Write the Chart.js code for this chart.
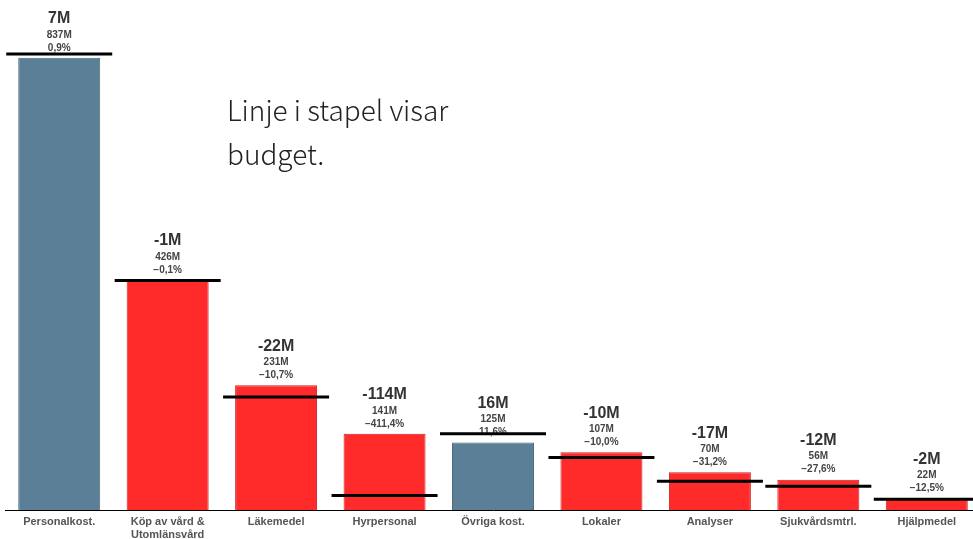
<!DOCTYPE html>
<html>
<head>
<meta charset="utf-8">
<script src="https://cdn.jsdelivr.net/npm/chart.js@4.4.0/dist/chart.umd.min.js"></script>
<style>
  html, body { margin: 0; padding: 0; background: #fff; overflow: hidden; }
  #wrap { width: 982px; height: 545px; position: relative; }
</style>
</head>
<body>
<div id="wrap"><canvas id="barChart"></canvas></div>
<script>
var categories = ["Personalkost.", ["Köp av vård &", "Utomlänsvård"], "Läkemedel", "Hyrpersonal",
    "Övriga kost.", "Lokaler", "Analyser", "Sjukvårdsmtrl.", "Hjälpmedel"];
var actual = [837, 426, 231, 141, 125, 107, 70, 56, 22];       // utfall, M
var deviation = [7, -1, -22, -114, 16, -10, -17, -12, -2];     // avvikelse mot budget, M
var budget = [844, 425, 209, 27, 141, 97, 53, 44, 20];         // budget, M
var percent = ["0,9%", "\u22120,1%", "\u221210,7%", "\u2212411,4%", "11,6%",
    "\u221210,0%", "\u221231,2%", "\u221227,6%", "\u221212,5%"];

var blue = '#5a7f96', red = '#ff2b2b';
var barColors = deviation.map(function (d) { return d > 0 ? blue : red; });
var barBorders = deviation.map(function (d) { return d > 0 ? '#4a6a7e' : '#c82222'; });

var labelPlugin = {
    id: 'barLabels',
    beforeDatasetsDraw: function (chart) {
        var ctx = chart.ctx;
        var meta = chart.getDatasetMeta(1);
        ctx.save();
        ctx.textAlign = 'center';
        ctx.textBaseline = 'middle';
        meta.data.forEach(function (bar, i) {
            var d = deviation[i];
            ctx.fillStyle = '#333';
            ctx.font = 'bold 16px "Liberation Sans", Arial, sans-serif';
            ctx.fillText((d < 0 ? '-' : '') + Math.abs(d) + 'M', bar.x, bar.y - 39);
            ctx.fillStyle = '#444';
            ctx.font = 'bold 10px "Liberation Sans", Arial, sans-serif';
            ctx.fillText(actual[i] + 'M', bar.x, bar.y - 23);
            ctx.fillText(percent[i], bar.x, bar.y - 10);
        });
        // note
        ctx.textAlign = 'left';
        ctx.textBaseline = 'alphabetic';
        ctx.fillStyle = '#222';
        ctx.font = '300 28px "Noto Sans CJK JP", "Noto Sans", sans-serif';
        ctx.fillText('Linje i stapel visar', 227, 121);
        ctx.fillText('budget.', 227, 165);
        ctx.restore();
    }
};

var ctx2 = document.getElementById("barChart").getContext("2d");
new Chart(ctx2, {
    type: 'bar',
    data: {
        labels: categories,
        datasets: [
            {
                type: 'line',
                label: 'Budget',
                data: budget,
                showLine: false,
                pointStyle: 'line',
                pointRadius: 53,
                pointHoverRadius: 53,
                pointBorderWidth: 3,
                pointBorderColor: '#000',
                borderColor: '#000',
                clip: false,
                order: 0
            },
            {
                label: 'Utfall',
                data: actual,
                backgroundColor: barColors,
                borderColor: barBorders,
                borderWidth: 1,
                categoryPercentage: 1,
                barPercentage: 0.756,
                order: 1
            }
        ]
    },
    options: {
        responsive: true,
        maintainAspectRatio: false,
        animation: false,
        layout: { autoPadding: false, padding: { left: 5, right: 1, top: 0, bottom: 0 } },
        plugins: {
            legend: { display: false },
            tooltip: { enabled: false }
        },
        scales: {
            x: {
                grid: { display: false, drawTicks: false, tickLength: 0 },
                border: { display: true, color: '#000', width: 1 },
                ticks: {
                    padding: 5,
                    color: '#555',
                    font: { family: '"Liberation Sans", Arial, sans-serif', size: 11, weight: 'bold' },
                    maxRotation: 0,
                    autoSkip: false
                },
                afterFit: function (s) { s.height = 35; }
            },
            y: {
                display: false,
                min: 0,
                max: 944
            }
        }
    },
    plugins: [labelPlugin]
});
</script>
</body>
</html>
